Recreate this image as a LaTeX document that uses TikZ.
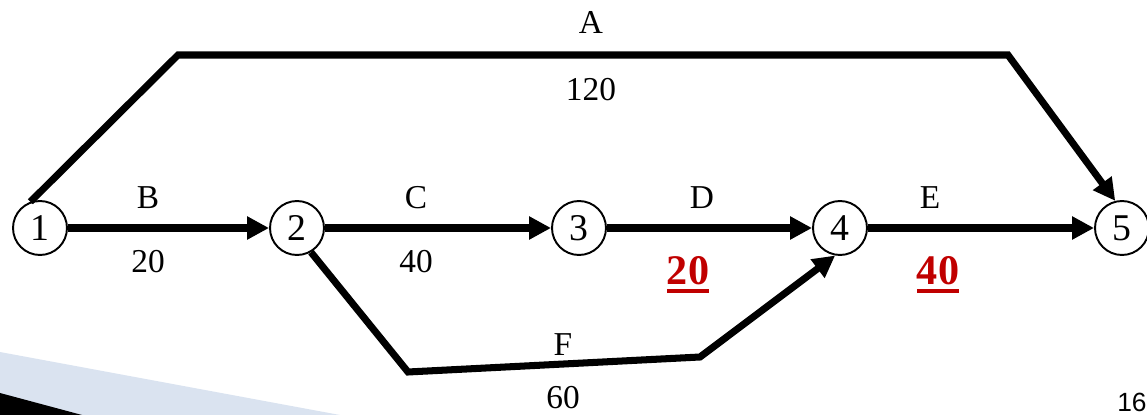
\documentclass[tikz,border=0pt]{standalone}
\usepackage{fontspec}
\setmainfont{Liberation Serif}
\setsansfont{Liberation Sans}
\usetikzlibrary{arrows.meta}
\definecolor{slidered}{HTML}{C00000}
\definecolor{slideblue}{HTML}{DAE3F0}
\begin{document}
\begin{tikzpicture}[x=0.02cm,y=-0.02cm,
  evnode/.style={circle,draw,line width=1.1pt,minimum size=1.08cm,inner sep=0pt,font=\fontsize{21.5}{24}\selectfont},
  edge/.style={line width=4pt,line join=miter,-{Triangle[length=12.5pt,width=12.5pt]}},
  lbl/.style={font=\fontsize{19}{22}\selectfont,inner sep=0pt},
  redlbl/.style={font=\fontsize{24}{26}\selectfont\bfseries,text=slidered,inner sep=0pt},
  uline/.style={fill=slidered}]
\useasboundingbox (0,0) rectangle (1147,415);
\clip (0,0) rectangle (1147,415);
% slide decoration
\fill[slideblue] (0,352) -- (340,415) -- (0,415) -- cycle;
\fill[black] (0,393) -- (82,415) -- (0,415) -- cycle;
% event nodes
\node[evnode] (n1) at (40,228) {1};
\node[evnode] (n2) at (297,228) {2};
\node[evnode] (n3) at (579,228) {3};
\node[evnode] (n4) at (840,228) {4};
\node[evnode] (n5) at (1122,228) {5};
% bend points
\coordinate (a1) at (178,55);
\coordinate (a2) at (1008,55);
\coordinate (f1) at (408,372);
\coordinate (f2) at (700,357);
% activities
\draw[edge] (n1.110) -- (a1) -- (a2) -- (n5.104);
\draw[edge] (n1) -- (n2);
\draw[edge] (n2) -- (n3);
\draw[edge] (n3) -- (n4);
\draw[edge] (n4) -- (n5);
\draw[edge] (n2.-60) -- (f1) -- (f2) -- (n4.-100);
% labels
\node[lbl] (lA) at (591,22) {A};
\node[lbl] (lA2) at (591,90) {120};
\node[lbl] (lB) at (148,198) {B};
\node[lbl] (lB2) at (148,262) {20};
\node[lbl] (lC) at (416,198) {C};
\node[lbl] (lC2) at (416,262) {40};
\node[lbl] (lD) at (702,198) {D};
\node[redlbl] (lD2) at (688,271) {20};
\path[uline] ([yshift=-1.8pt]lD2.south west) rectangle ([yshift=-4pt]lD2.south east);
\node[lbl] (lE) at (930,198) {E};
\node[redlbl] (lE2) at (938,271) {40};
\path[uline] ([yshift=-1.8pt]lE2.south west) rectangle ([yshift=-4pt]lE2.south east);
\node[lbl] (lF) at (563,345) {F};
\node[lbl] (lF2) at (563,398) {60};
\node[font=\sffamily\fontsize{15}{17}\selectfont,anchor=base east,inner sep=0pt] (pg) at (1147,412) {16};
\end{tikzpicture}
\end{document}
